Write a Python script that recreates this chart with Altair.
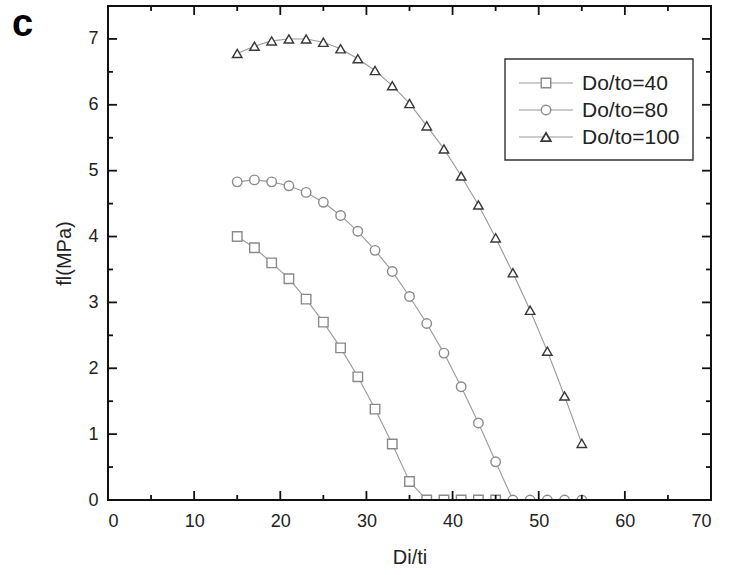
import altair as alt
import pandas as pd

# Di/ti values shared by all three series
di_ti = [15, 17, 19, 21, 23, 25, 27, 29, 31, 33, 35, 37, 39, 41, 43, 45, 47, 49, 51, 53, 55]

# fl (MPa) for each Do/to ratio (the Do/to=40 series stops at Di/ti=45)
fl_40 = [4.00, 3.83, 3.60, 3.36, 3.05, 2.70, 2.31, 1.87, 1.38, 0.85, 0.28,
         0, 0, 0, 0, 0]
fl_80 = [4.83, 4.86, 4.83, 4.77, 4.67, 4.52, 4.32, 4.08, 3.79, 3.47, 3.09,
         2.68, 2.23, 1.72, 1.17, 0.58, 0, 0, 0, 0, 0]
fl_100 = [6.78, 6.89, 6.97, 7.00, 7.00, 6.95, 6.85, 6.70, 6.52, 6.29, 6.02,
          5.68, 5.33, 4.92, 4.48, 3.98, 3.45, 2.88, 2.26, 1.58, 0.86]

series_names = ["Do/to=40", "Do/to=80", "Do/to=100"]
series_shapes = ["square", "circle", "triangle-up"]
series_strokes = ["#8a8a8a", "#8a8a8a", "#383838"]
series_widths = [1.4, 1.4, 1.8]

# axis tick positions (major labelled, minor unlabelled)
x_major = [0, 10, 20, 30, 40, 50, 60, 70]
x_minor = [5, 15, 25, 35, 45, 55, 65]
y_major = [0, 1, 2, 3, 4, 5, 6, 7]
y_minor = [0.5, 1.5, 2.5, 3.5, 4.5, 5.5, 6.5]

W, H = 603, 494
FONT = "Liberation Sans"

rows = []
for name, vals in zip(series_names, [fl_40, fl_80, fl_100]):
    for x, y in zip(di_ti, vals):
        rows.append({"series": name, "di_ti": x, "fl": y})
df = pd.DataFrame(rows)

xscale = alt.Scale(domain=[0, 70], nice=False, zero=False)
yscale = alt.Scale(domain=[0, 7.5], nice=False, zero=False)

x_axis = alt.Axis(values=x_major, format="d", title="Di/ti", labelPadding=12, titlePadding=17)
y_axis = alt.Axis(values=y_major, format="d", title="fl(MPa)", labelPadding=10, titlePadding=13)

base = alt.Chart(df)

lines = base.mark_line(color="#9a9a9a", strokeWidth=1.1, clip=True).encode(
    x=alt.X("di_ti:Q", scale=xscale, axis=x_axis),
    y=alt.Y("fl:Q", scale=yscale, axis=y_axis),
    detail="series:N",
)

points = base.mark_point(filled=True, fill="white", opacity=1, size=90, clip=True).encode(
    x=alt.X("di_ti:Q", scale=xscale, axis=x_axis),
    y=alt.Y("fl:Q", scale=yscale, axis=y_axis),
    shape=alt.Shape("series:N", scale=alt.Scale(domain=series_names, range=series_shapes), legend=None),
    stroke=alt.Stroke("series:N", scale=alt.Scale(domain=series_names, range=series_strokes), legend=None),
    strokeWidth=alt.StrokeWidth("series:N", scale=alt.Scale(domain=series_names, range=series_widths), legend=None),
)

# frame around the plot area
one = pd.DataFrame({"k": [0]})
frame = alt.Chart(one).mark_rect(fill=None, stroke="#111", strokeWidth=2).encode(
    x=alt.value(0), x2=alt.value(W), y=alt.value(0), y2=alt.value(H))


def x_ticks(values, length):
    d = pd.DataFrame({"v": values})
    bottom = alt.Chart(d).mark_rule(color="#111", strokeWidth=1.8).encode(
        x=alt.X("v:Q", scale=xscale, axis=x_axis), y=alt.value(H), y2=alt.value(H - length))
    top = alt.Chart(d).mark_rule(color="#111", strokeWidth=1.8).encode(
        x=alt.X("v:Q", scale=xscale, axis=x_axis), y=alt.value(0), y2=alt.value(length))
    return [bottom, top]


def y_ticks(values, length):
    d = pd.DataFrame({"v": values})
    left = alt.Chart(d).mark_rule(color="#111", strokeWidth=1.8).encode(
        y=alt.Y("v:Q", scale=yscale, axis=y_axis), x=alt.value(0), x2=alt.value(length))
    right = alt.Chart(d).mark_rule(color="#111", strokeWidth=1.8).encode(
        y=alt.Y("v:Q", scale=yscale, axis=y_axis), x=alt.value(W), x2=alt.value(W - length))
    return [left, right]


ticks = (x_ticks(x_major[1:-1], 9) + x_ticks(x_minor, 5)
         + y_ticks(y_major[1:], 9) + y_ticks(y_minor, 5))

# legend box drawn inside the plot area
legend_layers = [
    alt.Chart(one).mark_rect(fill="white", stroke="#333", strokeWidth=1.4).encode(
        x=alt.value(397), x2=alt.value(585), y=alt.value(53), y2=alt.value(154))
]
for i, (name, shp, col, sw) in enumerate(zip(series_names, series_shapes, series_strokes, series_widths)):
    ly = 77 + i * 27
    item = pd.DataFrame({"label": [name]})
    legend_layers.append(alt.Chart(item).mark_rule(color="#9a9a9a", strokeWidth=1.1).encode(
        x=alt.value(411), x2=alt.value(465), y=alt.value(ly)))
    legend_layers.append(alt.Chart(item).mark_point(
        shape=shp, filled=True, fill="white", stroke=col, strokeWidth=sw, size=90, opacity=1
    ).encode(x=alt.value(438), y=alt.value(ly)))
    legend_layers.append(alt.Chart(item).mark_text(
        align="left", baseline="middle", font=FONT, fontSize=21, color="#222"
    ).encode(x=alt.value(474), y=alt.value(ly + 1), text="label:N"))

panel_label = alt.Chart(one).mark_text(
    align="left", baseline="alphabetic", font=FONT, fontSize=38, fontWeight="bold", color="black"
).encode(x=alt.value(-96), y=alt.value(30), text=alt.value("c"))

chart = alt.layer(lines, points, frame, *ticks, *legend_layers, panel_label).properties(
    width=W, height=H,
    autosize=alt.AutoSizeParams(type="none"),
    padding={"left": 108, "top": 6, "right": 20, "bottom": 75},
    background="white",
).configure_axis(
    ticks=False, domain=False, grid=False,
    labelFont=FONT, labelFontSize=18, labelColor="#222",
    titleFont=FONT, titleFontSize=20, titleFontWeight="normal", titleColor="#222",
).configure_view(stroke=None)

chart.save("out.html", embed_options={"renderer": "svg", "actions": False})
